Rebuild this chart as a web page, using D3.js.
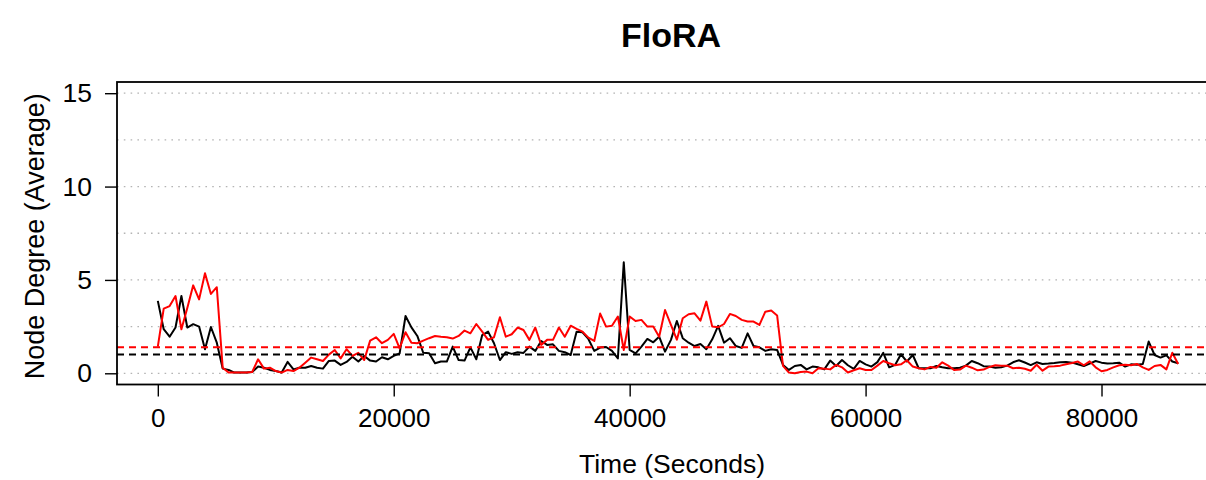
<!DOCTYPE html>
<html>
<head>
<meta charset="utf-8">
<script src="https://cdn.jsdelivr.net/npm/d3@7"></script>
<style>
  html, body { margin: 0; padding: 0; background: #fff; }
  svg { display: block; }
  text { font-family: "Liberation Sans", Arial, Helvetica, sans-serif; fill: #000; }
</style>
</head>
<body>
<svg id="chart" width="1206" height="480"></svg>
<script>
// Average node degree over one day, sampled every 500 s.
const chartTitle = "FloRA";
const xLabel = "Time (Seconds)";
const yLabel = "Node Degree (Average)";
const sampleStep = 500;

const xTicks = [0, 20000, 40000, 60000, 80000];
const yTicks = [0, 5, 10, 15];
const yGrid = [0, 2.5, 5, 7.5, 10, 12.5, 15];

// black series
const degreeBlack = [
  3.88, 2.36, 1.96, 2.45, 4.14, 2.45, 2.63, 2.5, 1.29, 2.48,
  1.64, 0.25, 0.18, 0.04, 0.04, 0.04, 0.07, 0.36, 0.3, 0.18,
  0.12, 0.04, 0.61, 0.21, 0.3, 0.3, 0.39, 0.3, 0.25, 0.66,
  0.68, 0.45, 0.61, 0.89, 0.63, 0.93, 0.68, 0.63, 0.86, 0.75,
  0.93, 1.07, 3.07, 2.46, 2.0, 1.1, 1.07, 0.54, 0.63, 0.63,
  1.43, 0.71, 0.68, 1.39, 0.75, 2.05, 2.23, 1.61, 0.71, 1.13,
  1.04, 1.13, 1.09, 1.43, 1.2, 1.73, 1.52, 1.55, 1.2, 1.13,
  0.98, 2.23, 2.2, 1.84, 1.2, 1.38, 1.41, 1.2, 0.8, 5.95,
  1.25, 1.07, 1.43, 1.84, 1.66, 1.96, 1.16, 1.79, 2.8, 1.88,
  1.64, 1.46, 1.57, 1.29, 1.82, 2.54, 1.64, 1.88, 1.46, 1.36,
  2.14, 1.46, 1.39, 1.2, 1.29, 1.25, 0.45, 0.18, 0.39, 0.45,
  0.21, 0.36, 0.32, 0.21, 0.68, 0.39, 0.71, 0.43, 0.24, 0.66,
  0.48, 0.36, 0.6, 1.1, 0.32, 0.45, 1.02, 0.63, 0.98, 0.27,
  0.27, 0.27, 0.39, 0.32, 0.27, 0.27, 0.3, 0.41, 0.66, 0.54,
  0.38, 0.36, 0.3, 0.32, 0.41, 0.59, 0.7, 0.58, 0.44, 0.59,
  0.5, 0.52, 0.55, 0.59, 0.61, 0.57, 0.48, 0.39, 0.52, 0.66,
  0.57, 0.52, 0.54, 0.57, 0.36, 0.48, 0.46, 0.5, 1.7, 0.98,
  0.84, 0.96, 0.63, 0.54
];

// red series
const degreeRed = [
  1.43, 3.46, 3.6, 4.14, 2.36, 3.5, 4.71, 3.96, 5.36, 4.25,
  4.61, 0.3, 0.04, 0.04, 0.04, 0.04, 0.07, 0.75, 0.25, 0.3,
  0.12, 0.04, 0.18, 0.12, 0.3, 0.57, 0.84, 0.75, 0.66, 1.0,
  1.25, 0.8, 1.29, 0.93, 1.1, 0.71, 1.75, 1.93, 1.61, 1.79,
  2.11, 1.34, 2.2, 1.64, 1.61, 1.75, 1.88, 2.0, 1.96, 1.93,
  1.86, 2.0, 2.29, 2.14, 2.64, 2.23, 1.79, 1.93, 3.0, 1.96,
  2.09, 2.45, 2.32, 1.79, 2.45, 1.52, 1.79, 1.79, 2.45, 1.96,
  2.55, 2.38, 2.23, 1.91, 1.73, 3.2, 2.5, 2.55, 3.04, 1.25,
  3.04, 2.8, 2.86, 2.5, 2.5, 1.96, 3.39, 2.59, 1.8, 2.95,
  3.16, 3.21, 2.82, 3.84, 2.5, 2.46, 2.64, 3.18, 3.07, 2.86,
  2.77, 2.77, 2.59, 3.3, 3.36, 3.1, 0.4, 0.04, 0.0, 0.07,
  0.09, 0.0, 0.27, 0.25, 0.21, 0.45, 0.32, 0.04, 0.16, 0.27,
  0.18, 0.18, 0.41, 0.66, 0.54, 0.43, 0.48, 0.7, 0.36, 0.27,
  0.21, 0.34, 0.3, 0.59, 0.41, 0.18, 0.2, 0.41, 0.3, 0.16,
  0.2, 0.34, 0.43, 0.41, 0.41, 0.27, 0.3, 0.24, 0.14, 0.46,
  0.14, 0.36, 0.38, 0.41, 0.48, 0.55, 0.63, 0.43, 0.64, 0.32,
  0.11, 0.18, 0.32, 0.43, 0.46, 0.43, 0.5, 0.32, 0.18, 0.39,
  0.45, 0.21, 1.1, 0.5
];

const svg = d3.select("#chart");
const box = { left: 117, right: 1219, top: 82, bottom: 384.5 };

const toPoints = vals => vals.map((v, i) => ({ t: i * sampleStep, v }));
const black = toPoints(degreeBlack);
const red = toPoints(degreeRed);

// axis ranges padded by 4% on each side
const tMax = (degreeBlack.length - 1) * sampleStep;
const xPad = tMax * 0.04;
const x = d3.scaleLinear().domain([-xPad, tMax + xPad]).range([box.left, box.right]);
const y = d3.scaleLinear().domain([-0.6, 15.6]).range([box.bottom, box.top]);

const clipId = "plot-clip";
svg.append("defs").append("clipPath").attr("id", clipId)
  .append("rect")
  .attr("x", box.left).attr("y", box.top)
  .attr("width", box.right - box.left).attr("height", box.bottom - box.top);

const plot = svg.append("g").attr("clip-path", `url(#${clipId})`);

// dotted horizontal grid
plot.selectAll("line.grid").data(yGrid).join("line")
  .attr("class", "grid")
  .attr("x1", box.left).attr("x2", box.right)
  .attr("y1", d => y(d)).attr("y2", d => y(d))
  .attr("stroke", "#b4b4b4").attr("stroke-width", 1.3)
  .attr("stroke-dasharray", "1.6,5.2");

const line = d3.line().x(d => x(d.t)).y(d => y(d.v));

plot.append("path").datum(black)
  .attr("d", line).attr("fill", "none")
  .attr("stroke", "#000").attr("stroke-width", 2).attr("stroke-linejoin", "round");

plot.append("path").datum(red)
  .attr("d", line).attr("fill", "none")
  .attr("stroke", "#ff0000").attr("stroke-width", 2).attr("stroke-linejoin", "round");

// mean levels
const means = [
  { v: d3.mean(degreeRed), c: "#ff0000" },
  { v: d3.mean(degreeBlack), c: "#000" }
];
plot.selectAll("line.mean").data(means).join("line")
  .attr("class", "mean")
  .attr("x1", box.left).attr("x2", box.right)
  .attr("y1", d => y(d.v)).attr("y2", d => y(d.v))
  .attr("stroke", d => d.c).attr("stroke-width", 2)
  .attr("stroke-dasharray", "7,5");

// frame
svg.append("rect")
  .attr("x", box.left).attr("y", box.top)
  .attr("width", box.right - box.left).attr("height", box.bottom - box.top)
  .attr("fill", "none").attr("stroke", "#000").attr("stroke-width", 1.8);

// axes
const xAxis = d3.axisBottom(x).tickValues(xTicks).tickFormat(d3.format("d"))
  .tickSize(12).tickPadding(12);
const gx = svg.append("g").attr("transform", `translate(0,${box.bottom})`).call(xAxis);
gx.select(".domain").remove();
gx.selectAll(".tick line").attr("stroke", "#000").attr("stroke-width", 1.4);
gx.selectAll(".tick text")
  .attr("font-size", 26).attr("font-family", "Liberation Sans, Arial, sans-serif")
  .attr("fill", "#000");

const yAxis = d3.axisLeft(y).tickValues(yTicks).tickFormat(d3.format("d"))
  .tickSize(12).tickPadding(13);
const gy = svg.append("g").attr("transform", `translate(${box.left},0)`).call(yAxis);
gy.select(".domain").remove();
gy.selectAll(".tick line").attr("stroke", "#000").attr("stroke-width", 1.4);
gy.selectAll(".tick text")
  .attr("font-size", 26.5).attr("font-family", "Liberation Sans, Arial, sans-serif")
  .attr("fill", "#000");

// titles
svg.append("text")
  .attr("x", (box.left + box.right) / 2 + 3).attr("y", 47)
  .attr("text-anchor", "middle")
  .attr("font-size", 34).attr("font-weight", "bold")
  .text(chartTitle);

svg.append("text")
  .attr("x", (box.left + box.right) / 2 + 4).attr("y", 473)
  .attr("text-anchor", "middle")
  .attr("font-size", 26.5)
  .text(xLabel);

svg.append("text")
  .attr("transform", `translate(44,${(box.top + box.bottom) / 2 + 3}) rotate(-90)`)
  .attr("text-anchor", "middle")
  .attr("font-size", 27)
  .text(yLabel);
</script>
</body>
</html>
